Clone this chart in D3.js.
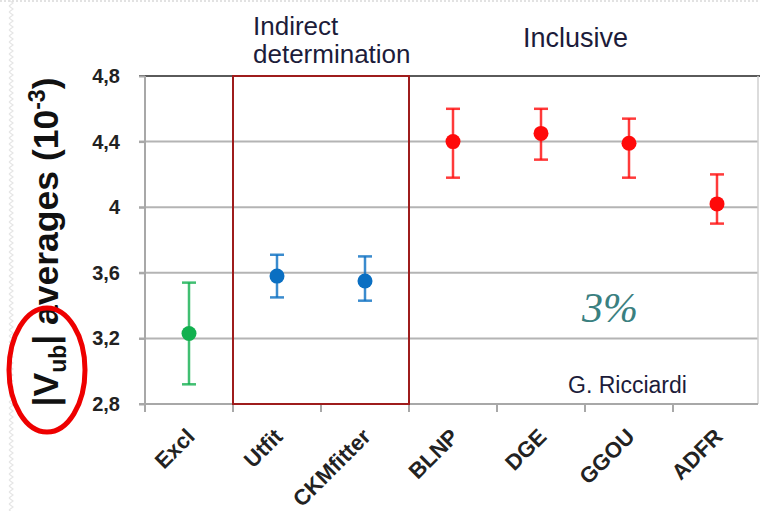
<!DOCTYPE html>
<html>
<head>
<meta charset="utf-8">
<script src="https://cdn.jsdelivr.net/npm/d3@7/dist/d3.min.js"></script>
<style>
  html, body { margin: 0; padding: 0; background: #fff; }
  svg { display: block; }
</style>
</head>
<body>
<svg id="chart" width="760" height="511" font-family="'Liberation Sans', Arial, sans-serif"></svg>
<script>
// |Vub| averages (units of 1e-3) with asymmetric uncertainties
const categories = ["Excl", "Utfit", "CKMfitter", "BLNP", "DGE", "GGOU", "ADFR"];
const centralValues = [3.23, 3.58, 3.55, 4.40, 4.45, 4.39, 4.02];
const upperValues   = [3.54, 3.71, 3.70, 4.60, 4.60, 4.54, 4.20];
const lowerValues   = [2.92, 3.45, 3.43, 4.18, 4.29, 4.18, 3.90];
const groups        = ["excl", "indirect", "indirect", "incl", "incl", "incl", "incl"];
const yTicks = [2.8, 3.2, 3.6, 4.0, 4.4, 4.8];
const yTickLabels = ["2,8", "3,2", "3,6", "4", "4,4", "4,8"];

const groupColor = { excl: "#12b04f", indirect: "#0a6fc2", incl: "#ff0a0a" };

const svg = d3.select("#chart");
const W = 760, H = 511;
const plot = { left: 145, right: 761, top: 76, bottom: 404 };

// faint zigzag strip along the left edge
const zig = svg.append("defs").append("pattern")
  .attr("id", "zig").attr("width", 8).attr("height", 6)
  .attr("patternUnits", "userSpaceOnUse");
zig.append("path").attr("d", "M1,0 L5,3 L1,6").attr("fill", "none")
  .attr("stroke", "#e6e6e6").attr("stroke-width", 1.2);
svg.append("rect").attr("x", 6).attr("y", 0).attr("width", 10).attr("height", H)
  .attr("fill", "url(#zig)");
svg.append("line").attr("x1", 0).attr("x2", W).attr("y1", 1).attr("y2", 1)
  .attr("stroke", "#e2e2e2").attr("stroke-width", 2).attr("stroke-dasharray", "2,2");

const x = d3.scaleBand().domain(categories).range([plot.left, plot.right]).padding(0);
const y = d3.scaleLinear().domain([2.8, 4.8]).range([plot.bottom, plot.top]);

// horizontal gridlines (extend left as tick marks)
const grid = svg.append("g");
grid.selectAll("line").data(yTicks.slice(1, -1)).join("line")
  .attr("x1", plot.left - 6).attr("x2", 758)
  .attr("y1", d => y(d)).attr("y2", d => y(d))
  .attr("stroke", "#b4b4b4").attr("stroke-width", 2);

// top border
svg.append("line").attr("x1", plot.left - 6).attr("x2", 760)
  .attr("y1", y(4.8)).attr("y2", y(4.8))
  .attr("stroke", "#5a5a5a").attr("stroke-width", 2);
// right border
svg.append("line").attr("x1", 758).attr("x2", 758)
  .attr("y1", y(4.8)).attr("y2", y(2.8))
  .attr("stroke", "#d0d0d0").attr("stroke-width", 1.5);

// y axis
const yAxis = d3.axisLeft(y).tickValues(yTicks)
  .tickFormat((d, i) => yTickLabels[i]).tickSize(6).tickPadding(19);
const gy = svg.append("g").attr("transform", `translate(${plot.left},0)`).call(yAxis);
gy.attr("font-family", null).attr("font-size", null);
gy.select(".domain").attr("stroke", "#a8a8a8").attr("stroke-width", 2)
  .attr("d", `M0,${plot.top}V${plot.bottom + 6}`);
gy.selectAll(".tick line").attr("stroke", "#a8a8a8").attr("stroke-width", 2);
gy.selectAll(".tick text").attr("fill", "#222").attr("font-size", 20)
  .attr("font-weight", "bold");

// x axis: ticks between categories
const boundaries = categories.map(c => x(c));
const gx = svg.append("g");
gx.append("line").attr("x1", plot.left - 6).attr("x2", 758)
  .attr("y1", plot.bottom).attr("y2", plot.bottom)
  .attr("stroke", "#a8a8a8").attr("stroke-width", 2);
gx.selectAll("line.tk").data(boundaries).join("line").attr("class", "tk")
  .attr("x1", d => d).attr("x2", d => d)
  .attr("y1", plot.bottom).attr("y2", plot.bottom + 8)
  .attr("stroke", "#a8a8a8").attr("stroke-width", 2);
gx.selectAll("text").data(categories).join("text")
  .attr("transform", d => `translate(${x(d) + x.bandwidth() / 2 + 7},${plot.bottom + 34}) rotate(-45)`)
  .attr("text-anchor", "end")
  .attr("font-size", 22).attr("font-weight", "bold").attr("fill", "#222")
  .text(d => d);

// box around the indirect determinations
const indirect = categories.filter((c, i) => groups[i] === "indirect");
const bx0 = x(indirect[0]), bx1 = x(indirect[indirect.length - 1]) + x.bandwidth();
svg.append("rect")
  .attr("x", bx0).attr("y", y(4.8))
  .attr("width", bx1 - bx0).attr("height", y(2.8) - y(4.8))
  .attr("fill", "none").attr("stroke", "#9e1c1c").attr("stroke-width", 2);

// error bars and markers
const pts = categories.map((c, i) => ({
  c, v: centralValues[i], hi: upperValues[i], lo: lowerValues[i], g: groups[i]
}));
const eb = svg.append("g");
const cx = d => x(d.c) + x.bandwidth() / 2;
eb.selectAll("line.stem").data(pts).join("line").attr("class", "stem")
  .attr("x1", cx).attr("x2", cx)
  .attr("y1", d => y(d.hi)).attr("y2", d => y(d.lo))
  .attr("stroke", d => groupColor[d.g]).attr("stroke-width", 2.5).attr("opacity", 0.8);
eb.selectAll("line.capHi").data(pts).join("line").attr("class", "capHi")
  .attr("x1", d => cx(d) - 7).attr("x2", d => cx(d) + 7)
  .attr("y1", d => y(d.hi)).attr("y2", d => y(d.hi))
  .attr("stroke", d => groupColor[d.g]).attr("stroke-width", 2.5).attr("opacity", 0.8);
eb.selectAll("line.capLo").data(pts).join("line").attr("class", "capLo")
  .attr("x1", d => cx(d) - 7).attr("x2", d => cx(d) + 7)
  .attr("y1", d => y(d.lo)).attr("y2", d => y(d.lo))
  .attr("stroke", d => groupColor[d.g]).attr("stroke-width", 2.5).attr("opacity", 0.8);
eb.selectAll("circle").data(pts).join("circle")
  .attr("cx", cx).attr("cy", d => y(d.v)).attr("r", 7.5)
  .attr("fill", d => groupColor[d.g]);

// group headings
const head = svg.append("g").attr("fill", "#1c1c3a").attr("font-size", 26);
head.append("text").attr("x", 253).attr("y", 35).text("Indirect");
head.append("text").attr("x", 253).attr("y", 63).text("determination");
head.append("text").attr("x", 523).attr("y", 47).attr("font-size", 27).text("Inclusive");

// annotations
svg.append("text").attr("x", 582).attr("y", 322)
  .attr("font-family", "'Liberation Serif', 'Times New Roman', serif")
  .attr("font-style", "italic").attr("font-size", 42).attr("fill", "#3a8080")
  .text("3%");
svg.append("text").attr("x", 568).attr("y", 393)
  .attr("font-size", 23).attr("fill", "#1c1c3a").text("G. Ricciardi");

// y axis title
const title = svg.append("text")
  .attr("transform", "translate(58,242) rotate(-90)")
  .attr("text-anchor", "middle").attr("font-size", 35.5).attr("font-weight", "bold")
  .attr("fill", "#111");
title.append("tspan").text("|V");
title.append("tspan").attr("font-size", 23).attr("dy", 8).text("ub");
title.append("tspan").attr("dy", -8).text("| averages (10");
title.append("tspan").attr("font-size", 23).attr("dy", -13).text("-3");
title.append("tspan").attr("dy", 13).text(")");

// highlight ring
svg.append("ellipse").attr("cx", 47).attr("cy", 370).attr("rx", 38).attr("ry", 62)
  .attr("fill", "none").attr("stroke", "#ee0000").attr("stroke-width", 5);
</script>
</body>
</html>
